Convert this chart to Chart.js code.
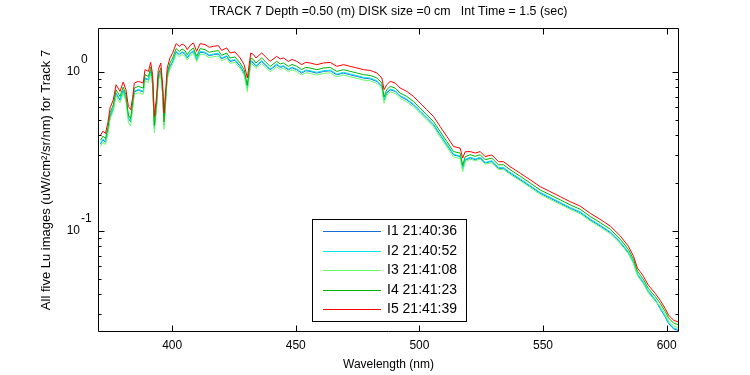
<!DOCTYPE html>
<html>
<head>
<meta charset="utf-8">
<script src="https://cdn.jsdelivr.net/npm/chart.js@4/dist/chart.umd.min.js"></script>
<style>
html,body{margin:0;padding:0;background:#fff;}
#wrap{width:750px;height:375px;position:relative;}
</style>
</head>
<body>
<div id="wrap"><canvas id="c" width="750" height="375"></canvas></div>
<script>
// ---- Data ----
const wavelengths = [
371.0, 372.0, 373.0, 374.0, 374.9, 376.2, 377.3, 378.9, 380.2, 381.3,
382.3, 383.2, 384.0, 384.7, 386.3, 388.3, 389.0, 390.4, 391.3, 392.1,
392.8, 393.7, 394.4, 395.4, 396.2, 396.7, 397.5, 398.0, 399.1, 400.2,
401.6, 402.9, 404.0, 405.2, 406.1, 407.3, 408.6, 409.9, 411.3, 413.3,
415.0, 416.7, 418.7, 420.0, 422.1, 423.4, 425.4, 427.5, 429.1, 430.4,
431.8, 432.9, 433.9, 436.2, 437.6, 439.6, 442.3, 443.7, 445.0, 447.0,
448.5, 450.4, 452.4, 454.0, 455.8, 458.5, 461.2, 463.9, 466.6, 469.3,
472.0, 474.7, 477.4, 480.1, 482.8, 484.8, 485.7, 486.8, 488.2, 490.2,
492.2, 494.9, 497.6, 500.3, 503.0, 505.7, 508.4, 511.1, 513.8, 516.5,
517.5, 518.5, 520.5, 522.6, 524.6, 526.6, 529.3, 532.0, 534.0, 536.7,
540.8, 544.8, 548.9, 552.9, 557.0, 561.0, 565.0, 569.1, 573.1, 577.2,
581.3, 584.5, 586.6, 588.2, 589.4, 590.6, 592.6, 595.4, 597.4, 599.4,
600.8, 602.8, 604.8
];

const luI1 = [
0.352, 0.374, 0.361, 0.422, 0.524, 0.589, 0.732, 0.664, 0.761, 0.681,
0.510, 0.486, 0.606, 0.750, 0.768, 0.750, 0.910, 0.888, 1.011, 0.847,
0.441, 0.618, 0.910, 1.002, 0.714, 0.464, 0.714, 0.933, 1.078, 1.159,
1.335, 1.283, 1.328, 1.296, 1.223, 1.301, 1.348, 1.193, 1.335, 1.315,
1.266, 1.283, 1.296, 1.211, 1.253, 1.166, 1.183, 1.084, 0.984, 0.789,
1.166, 1.137, 1.084, 1.166, 1.110, 1.032, 1.110, 1.068, 1.084, 1.032,
1.062, 1.032, 0.984, 1.018, 1.008, 0.984, 1.008, 1.017, 0.960, 0.984,
0.960, 0.938, 0.915, 0.905, 0.873, 0.812, 0.666, 0.736, 0.773, 0.754,
0.702, 0.668, 0.621, 0.565, 0.512, 0.465, 0.402, 0.348, 0.301, 0.294,
0.248, 0.279, 0.288, 0.281, 0.288, 0.268, 0.274, 0.248, 0.248, 0.231,
0.210, 0.191, 0.173, 0.161, 0.1497, 0.1392, 0.1308, 0.1177, 0.1078, 0.0978,
0.0846, 0.0732, 0.0633, 0.0532, 0.0502, 0.0473, 0.0416, 0.0369, 0.0325, 0.0289,
0.0262, 0.0243, 0.0237
];

const luI2 = [
0.356, 0.378, 0.365, 0.427, 0.530, 0.595, 0.740, 0.672, 0.770, 0.689,
0.516, 0.492, 0.613, 0.758, 0.777, 0.758, 0.920, 0.898, 1.023, 0.856,
0.446, 0.625, 0.920, 1.014, 0.722, 0.469, 0.722, 0.943, 1.090, 1.172,
1.350, 1.298, 1.343, 1.310, 1.237, 1.316, 1.363, 1.206, 1.350, 1.330,
1.280, 1.298, 1.310, 1.224, 1.267, 1.179, 1.197, 1.096, 0.995, 0.798,
1.179, 1.150, 1.096, 1.179, 1.122, 1.044, 1.122, 1.080, 1.096, 1.044,
1.074, 1.044, 0.995, 1.029, 1.019, 0.995, 1.019, 1.028, 0.971, 0.995,
0.971, 0.949, 0.925, 0.916, 0.882, 0.821, 0.673, 0.745, 0.781, 0.763,
0.710, 0.676, 0.628, 0.571, 0.518, 0.470, 0.406, 0.352, 0.304, 0.297,
0.251, 0.282, 0.291, 0.284, 0.291, 0.270, 0.277, 0.251, 0.251, 0.234,
0.213, 0.193, 0.175, 0.163, 0.1513, 0.1408, 0.1322, 0.1190, 0.1090, 0.0989,
0.0856, 0.0740, 0.0640, 0.0538, 0.0508, 0.0478, 0.0420, 0.0373, 0.0328, 0.0292,
0.0265, 0.0246, 0.0240
];

const luI3 = [
0.340, 0.361, 0.349, 0.408, 0.507, 0.569, 0.707, 0.642, 0.735, 0.658,
0.480, 0.457, 0.586, 0.724, 0.742, 0.724, 0.879, 0.858, 0.977, 0.818,
0.415, 0.597, 0.879, 0.968, 0.689, 0.436, 0.689, 0.901, 1.041, 1.119,
1.297, 1.247, 1.290, 1.259, 1.189, 1.264, 1.310, 1.159, 1.297, 1.278,
1.230, 1.247, 1.259, 1.176, 1.218, 1.133, 1.150, 1.054, 0.956, 0.752,
1.133, 1.105, 1.054, 1.133, 1.078, 1.003, 1.078, 1.038, 1.054, 1.003,
1.032, 1.003, 0.956, 0.989, 0.980, 0.956, 0.980, 0.988, 0.933, 0.956,
0.933, 0.912, 0.889, 0.880, 0.848, 0.789, 0.635, 0.716, 0.751, 0.733,
0.682, 0.649, 0.604, 0.549, 0.498, 0.452, 0.390, 0.338, 0.292, 0.286,
0.236, 0.271, 0.283, 0.277, 0.283, 0.263, 0.269, 0.244, 0.244, 0.227,
0.207, 0.188, 0.170, 0.158, 0.1472, 0.1369, 0.1286, 0.1157, 0.1061, 0.0962,
0.0832, 0.0720, 0.0623, 0.0524, 0.0494, 0.0465, 0.0409, 0.0362, 0.0338, 0.0300,
0.0272, 0.0253, 0.0247
];

const luI4 = [
0.372, 0.395, 0.381, 0.446, 0.554, 0.622, 0.774, 0.702, 0.804, 0.720,
0.534, 0.510, 0.641, 0.792, 0.812, 0.792, 0.962, 0.938, 1.069, 0.895,
0.462, 0.653, 0.962, 1.059, 0.754, 0.486, 0.754, 0.986, 1.139, 1.225,
1.402, 1.349, 1.395, 1.362, 1.285, 1.367, 1.416, 1.254, 1.402, 1.382,
1.330, 1.349, 1.362, 1.272, 1.317, 1.225, 1.243, 1.139, 1.034, 0.825,
1.225, 1.195, 1.139, 1.225, 1.166, 1.084, 1.166, 1.123, 1.139, 1.084,
1.116, 1.084, 1.034, 1.070, 1.059, 1.034, 1.059, 1.069, 1.009, 1.034,
1.009, 0.986, 0.962, 0.951, 0.917, 0.853, 0.697, 0.774, 0.812, 0.792,
0.737, 0.702, 0.653, 0.593, 0.538, 0.488, 0.422, 0.365, 0.316, 0.309,
0.259, 0.293, 0.302, 0.295, 0.302, 0.281, 0.287, 0.261, 0.261, 0.243,
0.221, 0.2005, 0.181, 0.169, 0.1571, 0.1461, 0.1372, 0.1235, 0.1132, 0.1027,
0.0888, 0.0768, 0.0665, 0.0559, 0.0527, 0.0497, 0.0436, 0.0387, 0.0352, 0.0313,
0.0284, 0.0264, 0.0257
];

const luI5 = [
0.400, 0.425, 0.410, 0.480, 0.596, 0.669, 0.832, 0.755, 0.865, 0.774,
0.607, 0.579, 0.689, 0.852, 0.873, 0.852, 1.034, 1.009, 1.149, 0.962,
0.525, 0.702, 1.034, 1.139, 0.811, 0.552, 0.811, 1.060, 1.225, 1.317,
1.508, 1.450, 1.500, 1.464, 1.382, 1.470, 1.523, 1.348, 1.508, 1.486,
1.430, 1.450, 1.464, 1.368, 1.416, 1.317, 1.337, 1.225, 1.112, 0.917,
1.317, 1.285, 1.225, 1.317, 1.254, 1.166, 1.254, 1.207, 1.225, 1.166,
1.200, 1.166, 1.112, 1.150, 1.139, 1.112, 1.139, 1.149, 1.085, 1.112,
1.085, 1.060, 1.034, 1.023, 0.986, 0.917, 0.774, 0.832, 0.873, 0.852,
0.793, 0.755, 0.702, 0.638, 0.579, 0.525, 0.454, 0.393, 0.340, 0.332,
0.288, 0.315, 0.316, 0.309, 0.316, 0.294, 0.301, 0.273, 0.273, 0.254,
0.231, 0.210, 0.190, 0.177, 0.1645, 0.153, 0.1437, 0.1293, 0.1185, 0.1075,
0.0930, 0.0804, 0.0696, 0.0585, 0.0552, 0.0520, 0.0457, 0.0405, 0.0367, 0.0326,
0.0296, 0.0275, 0.0268
];

const seriesLabels = ['I1 21:40:36', 'I2 21:40:52', 'I3 21:41:08', 'I4 21:41:23', 'I5 21:41:39'];
const xTickValues = [400, 450, 500, 550, 600];
const yTickValues = [0.03, 0.04, 0.05, 0.06, 0.07, 0.08, 0.09, 0.1, 0.2, 0.3, 0.4, 0.5, 0.6, 0.7, 0.8, 0.9, 1];
const yMajorTicks = [0.1, 1];
const yMajorExponents = ['-1', '0'];
const titleText = 'TRACK 7 Depth =0.50 (m) DISK size =0 cm   Int Time = 1.5 (sec)';
const xTitle = 'Wavelength (nm)';
const yTitle = 'All five Lu images (uW/cm\u00B2/sr/nm) for Track 7';

// ---- Styling ----
const FONT = '"Liberation Sans", Arial, Helvetica, sans-serif';
const colors = ['rgb(20,110,220)', 'rgb(0,230,240)', 'rgb(100,255,100)', 'rgb(0,180,0)', 'rgb(255,0,0)'];
const seriesValues = [luI1, luI2, luI3, luI4, luI5];

const datasets = seriesValues.map((vals, i) => ({
  label: seriesLabels[i],
  data: wavelengths.map((w, k) => ({x: w, y: vals[k]})),
  borderColor: colors[i],
  backgroundColor: colors[i],
  borderWidth: 1,
  pointRadius: 0,
  tension: 0,
  fill: false,
  order: 4 - i
}));

const axesPlugin = {
  id: 'matlabAxes',
  afterDatasetsDraw(chart) {
    const {ctx, chartArea: a, scales: {x, y}} = chart;
    ctx.save();
    ctx.strokeStyle = '#000';
    ctx.lineWidth = 1;
    const L = Math.round(a.left) + 0.5, R = Math.round(a.right) - 0.5;
    const T = Math.round(a.top) + 0.5, B = Math.round(a.bottom) - 0.5;
    ctx.beginPath();
    ctx.rect(L, T, R - L, B - T);
    x.ticks.forEach(t => {
      const px = Math.round(x.getPixelForValue(t.value)) + 0.5;
      ctx.moveTo(px, B); ctx.lineTo(px, B - 6);
      ctx.moveTo(px, T); ctx.lineTo(px, T + 6);
    });
    y.ticks.forEach(t => {
      const py = Math.round(y.getPixelForValue(t.value)) + 0.5;
      const len = yMajorTicks.includes(t.value) ? 6 : 3;
      ctx.moveTo(L, py); ctx.lineTo(L + len, py);
      ctx.moveTo(R, py); ctx.lineTo(R - len, py);
    });
    ctx.stroke();
    // exponents of the 10^n labels
    ctx.fillStyle = '#000';
    ctx.font = '12px ' + FONT;
    ctx.textAlign = 'left';
    ctx.textBaseline = 'middle';
    yMajorTicks.forEach((v, i) => {
      const py = y.getPixelForValue(v);
      ctx.fillText(yMajorExponents[i], a.left - 17, py - 12);
    });
    ctx.restore();
  },
  afterDraw(chart) {
    const {ctx} = chart;
    ctx.save();
    const bx = 312.5, by = 219.5, bw = 154, bh = 102;
    ctx.fillStyle = '#fff';
    ctx.fillRect(bx, by, bw, bh);
    ctx.strokeStyle = '#000';
    ctx.lineWidth = 1;
    ctx.strokeRect(bx, by, bw, bh);
    ctx.font = '14px ' + FONT;
    ctx.textAlign = 'left';
    ctx.textBaseline = 'middle';
    chart.data.datasets.forEach((ds, i) => {
      const yy = Math.round(231 + i * 19.5) + 0.5;
      ctx.strokeStyle = ds.borderColor;
      ctx.beginPath();
      ctx.moveTo(323, yy); ctx.lineTo(381, yy);
      ctx.stroke();
      ctx.fillStyle = '#000';
      ctx.fillText(ds.label, 387, yy);
    });
    ctx.restore();
  }
};

new Chart(document.getElementById('c'), {
  type: 'line',
  data: {datasets},
  options: {
    responsive: false,
    animation: false,
    devicePixelRatio: 1,
    layout: {padding: {left: 0, right: 71, top: 0, bottom: 0}},
    plugins: {
      legend: {display: false},
      tooltip: {enabled: false},
      title: {
        display: true,
        text: titleText,
        fullSize: false,
        color: '#000',
        font: {family: FONT, size: 12.4, weight: 'normal', lineHeight: 1.2},
        padding: {top: 4.6, bottom: 8.52}
      }
    },
    scales: {
      x: {
        type: 'linear',
        min: 370,
        max: 605,
        grid: {display: false, drawTicks: false},
        border: {display: false},
        afterBuildTicks: s => { s.ticks = xTickValues.map(v => ({value: v})); },
        afterFit: s => { s.height = 43; },
        ticks: {
          color: '#000',
          font: {family: FONT, size: 12},
          padding: 6,
          maxRotation: 0,
          autoSkip: false,
          includeBounds: false,
          callback: v => String(v)
        },
        title: {
          display: true,
          text: xTitle,
          color: '#000',
          font: {family: FONT, size: 12, lineHeight: 1.2},
          padding: {top: 0, bottom: 3}
        }
      },
      y: {
        type: 'logarithmic',
        min: 0.0232,
        max: 1.89,
        grid: {display: false, drawTicks: false},
        border: {display: false},
        afterBuildTicks: s => { s.ticks = yTickValues.map(v => ({value: v})); },
        afterFit: s => { s.width = 98; },
        ticks: {
          color: '#000',
          font: {family: FONT, size: 12},
          padding: 18,
          autoSkip: false,
          callback: v => (yMajorTicks.includes(v) ? '10' : '')
        },
        title: {
          display: true,
          text: yTitle,
          color: '#000',
          font: {family: FONT, size: 13, lineHeight: 1.2},
          padding: {top: 39, bottom: 0}
        }
      }
    }
  },
  plugins: [axesPlugin]
});
</script>
</body>
</html>
